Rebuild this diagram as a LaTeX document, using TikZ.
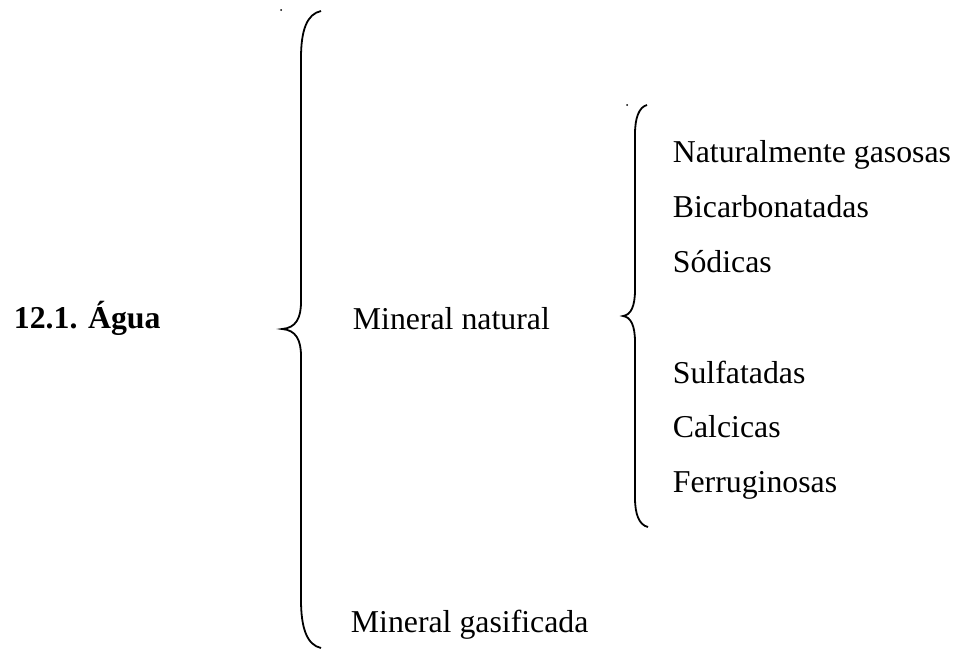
\documentclass[tikz,border=0pt]{standalone}
\usepackage{fontspec}
\setmainfont{Liberation Serif}
\begin{document}
\begin{tikzpicture}[x=0.5pt, y=0.5pt, line width=0.9pt]
\tikzstyle{entry}=[anchor=base west,inner sep=0pt,font=\fontsize{15.9}{19}\selectfont]
\useasboundingbox (0,0) rectangle (957,650);
  \node[entry,font=\fontsize{15.9}{19}\selectfont\bfseries] (agua) at (13,322) {12.1. Água};
  \foreach \place/\name/\txt in {{(352,321)/natural/Mineral natural},
                                 {(350,18)/gasificada/Mineral gasificada},
                                 {(672,488)/gasosas/Naturalmente gasosas},
                                 {(672,433)/bicarb/Bicarbonatadas},
                                 {(672,378)/sodicas/Sódicas},
                                 {(672,267)/sulfat/Sulfatadas},
                                 {(672,213)/calcicas/Calcicas},
                                 {(672,158)/ferrug/Ferruginosas}}
    \node[entry] (\name) at \place {\txt};
  % outer brace
  \fill (281,640) circle (1);
  \draw (321,639) .. controls (307,636) and (301,620) .. (301,592) -- (301,348)
        .. controls (301,332) and (296,322) .. (282,321)
        .. controls (296,320) and (301,310) .. (301,294) -- (301,50)
        .. controls (301,22) and (307,5) .. (321,2);
  % inner brace
  \fill (627,545) circle (1);
  \draw (647,545) .. controls (639,543) and (635,532) .. (635,516) -- (635,360)
        .. controls (635,344) and (631,335) .. (623,334)
        .. controls (631,333) and (635,324) .. (635,308) -- (635,152)
        .. controls (635,136) and (639,125) .. (648,123);
\end{tikzpicture}
\end{document}
